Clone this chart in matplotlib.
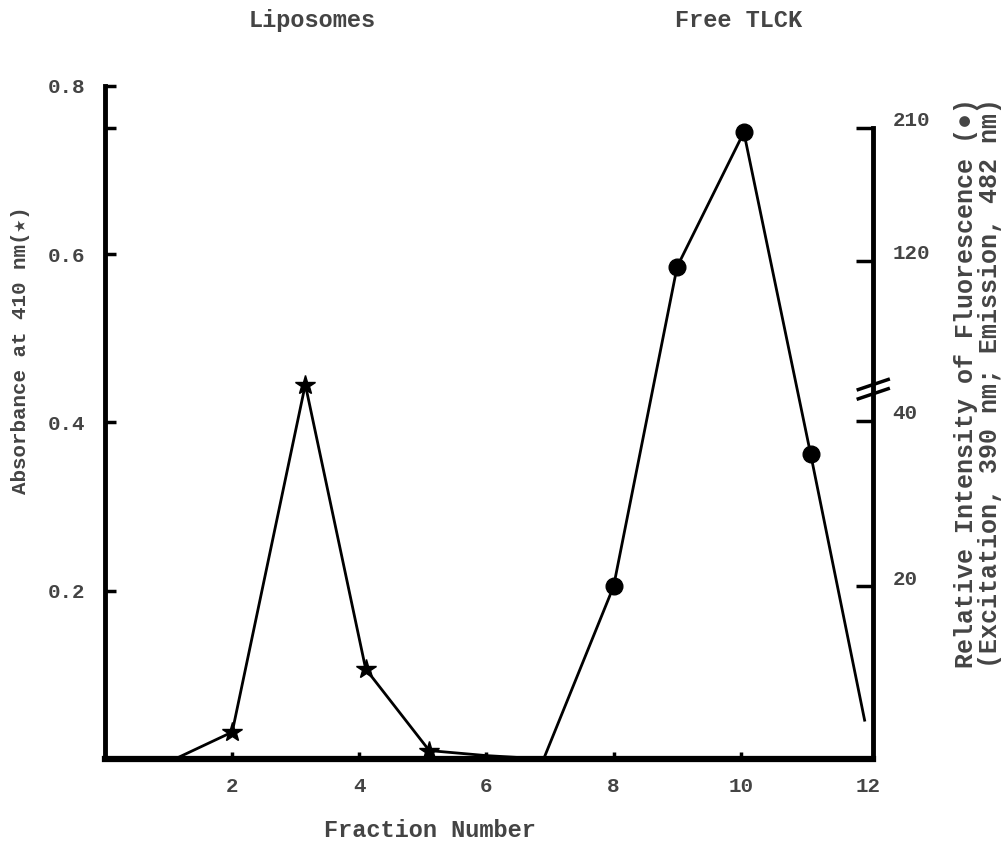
import numpy as np
import matplotlib
matplotlib.use("Agg")
from matplotlib import pyplot as plt
from matplotlib.transforms import ScaledTranslation

plt.rcParams['font.family'] = ['Liberation Mono', 'DejaVu Sans Mono', 'DejaVu Sans']
plt.rcParams['font.weight'] = 'bold'
plt.rcParams['axes.labelweight'] = 'bold'

# absorbance at 410 nm (stars)
abs_frac = [1.1, 2.0, 3.15, 4.1, 5.1, 6.0, 6.9]
abs_val = [0.0, 0.032, 0.445, 0.107, 0.010, 0.004, 0.0]

# fluorescence intensity (dots), first point is the baseline start
fl_frac = [6.9, 8.0, 9.0, 10.05, 11.1, 11.95]
fl_val = [0.0, 20, 117, 207, 36, 4.5]

x_ticks = [2, 4, 6, 8, 10, 12]
abs_ticks = [0.2, 0.4, 0.6, 0.8]
fl_ticks = [20, 40, 120, 210]

# broken right-hand scale: fluorescence -> absorbance-axis units
fl_knots = [0, 20, 40, 120, 210, 400]
ax_knots = [0, 0.205, 0.402, 0.592, 0.75, 1.085]


def fl_fwd(v):
    return np.interp(v, fl_knots, ax_knots)


def fl_inv(v):
    return np.interp(v, ax_knots, fl_knots)


fig = plt.figure(figsize=(10.01, 8.42), dpi=100)
ax = fig.add_axes([0.105, 0.0986, 0.767, 0.8195])
ax.set_xlim(0, 12.08)
ax.set_ylim(0, 0.82)

ax.plot(abs_frac, abs_val, color='black', lw=2.0, marker='*', ms=15,
        markevery=[1, 2, 3, 4], zorder=3)

ax2 = ax.twinx()
ax2.set_yscale('function', functions=(fl_fwd, fl_inv))
ax2.set_ylim(0, fl_inv(0.82))
ax2.plot(fl_frac, fl_val, color='black', lw=2.0, marker='o', ms=12,
         markevery=[1, 2, 3, 4], zorder=3)

for a in (ax, ax2):
    a.spines['top'].set_visible(False)
    for s in a.spines.values():
        s.set_linewidth(3.5)

ax.spines['right'].set_visible(False)
ax.spines['left'].set_bounds(0, 0.8)
ax2.spines['left'].set_visible(False)
ax2.spines['bottom'].set_visible(False)
ax2.spines['right'].set_bounds(0, 210)
ax.spines['bottom'].set_linewidth(4.5)

tcol = '#444444'
ax.set_xticks(x_ticks)
ax.set_xticklabels([str(t) for t in x_ticks])
ax.tick_params(axis='x', direction='in', length=5, width=2.5, pad=13,
               labelsize=15, labelcolor=tcol)
ax.xaxis.get_major_ticks()[-1].tick1line.set_visible(False)
ax.set_yticks([0.2, 0.4, 0.6, 0.75, 0.8])
ax.set_yticklabels(['0.2', '0.4', '0.6', '', '0.8'])
ax.tick_params(axis='y', direction='in', length=8, width=2.5, pad=14,
               labelsize=15, labelcolor=tcol)

ax2.set_yticks(fl_ticks)
ax2.set_yticklabels([str(t) for t in fl_ticks])
ax2.yaxis.set_minor_locator(plt.NullLocator())
ax2.tick_params(axis='y', direction='in', length=12, width=2.5, pad=14,
                labelsize=15, labelcolor=tcol)
shift = ScaledTranslation(0, 9 / 100, fig.dpi_scale_trans)
for lab in ax2.get_yticklabels():
    lab.set_transform(lab.get_transform() + shift)

# break marks on the right axis
bt = ax.get_yaxis_transform()
for yb in (0.434, 0.445):
    ax.plot([0.981, 1.02], [yb - 0.006, yb + 0.006], color='black', lw=2.5,
            transform=bt, clip_on=False, zorder=4)

ax.set_xlabel('Fraction Number', fontsize=17, color=tcol)
ax.xaxis.set_label_coords(0.423, -0.087)
ax.set_ylabel('Absorbance at 410 nm(★)', fontsize=15, color=tcol)
ax.yaxis.set_label_coords(-0.098, 0.593)

fig.text(0.977, 0.545,
         'Relative Intensity of Fluorescence (●)\n(Excitation, 390 nm; Emission, 482 nm)',
         rotation=90, ha='center', va='center', fontsize=18, color=tcol,
         multialignment='center', linespacing=1.0)

fig.text(0.312, 0.976, 'Liposomes', ha='center', va='center', fontsize=17, color=tcol)
fig.text(0.738, 0.976, 'Free TLCK', ha='center', va='center', fontsize=17, color=tcol)

fig.savefig('out.png', dpi=100)
